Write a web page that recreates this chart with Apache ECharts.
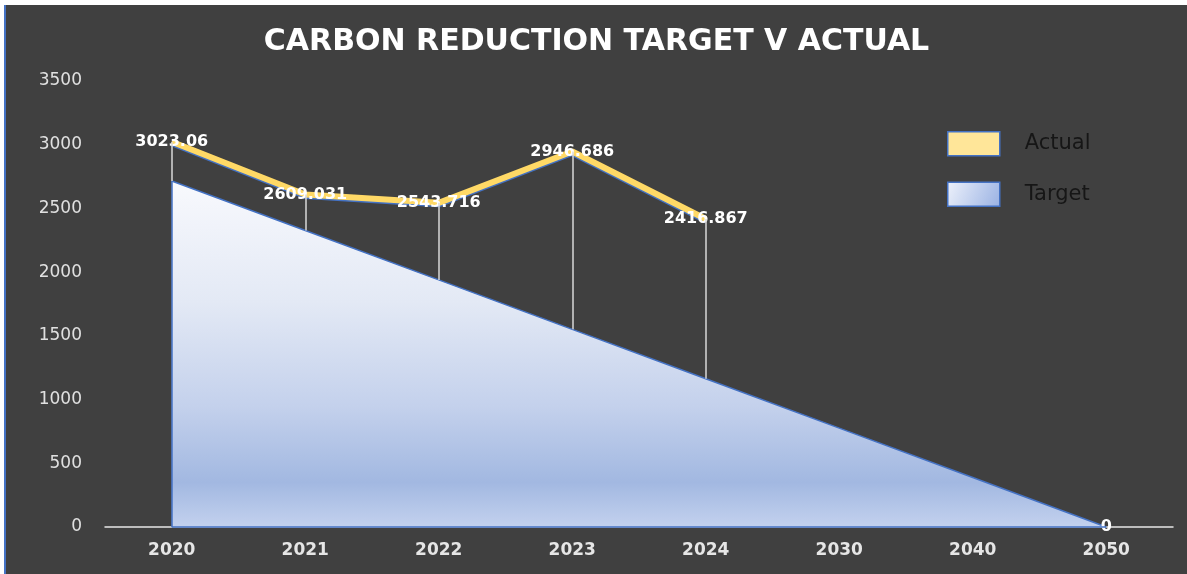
<!DOCTYPE html>
<html>
<head>
<meta charset="utf-8">
<script src="https://cdn.jsdelivr.net/npm/echarts@6/dist/echarts.min.js"></script>
<style>
  html, body { margin: 0; padding: 0; background: #ffffff; width: 1187px; height: 574px; overflow: hidden; }
  #frame { position: absolute; left: 4px; top: 5px; width: 1181px; height: 569px; border-left: 2px solid #4472c4; background: #404040; }
  #chart { width: 1181px; height: 569px; }
</style>
</head>
<body>
<div id="frame"><div id="chart"></div></div>
<script>
// categories + values
const years = ['2020', '2021', '2022', '2023', '2024', '2030', '2040', '2050']
const actual = [3023.06, 2609.031, 2543.716, 2946.686, 2416.867, null, null, null]
const target = [2715, 2327, 1939, 1551, 1164, 776, 388, 0]
const yTicks = { min: 0, max: 3500, interval: 500 }

const chart = echarts.init(document.getElementById('chart'), null, { renderer: 'canvas' })

const last = target.length - 1
// drop lines from each actual point down to where the target area hides them
const dropLines = actual
  .map((v, i) => v == null ? null : [{ coord: [years[i], v] }, { coord: [years[i], target[i]] }])
  .filter(Boolean)

const labelFont = { color: '#ffffff', fontSize: 16, fontWeight: 'bold', fontFamily: 'DejaVu Sans' }

chart.setOption({
  backgroundColor: '#404040',
  animation: false,
  title: {
    text: 'CARBON REDUCTION TARGET V ACTUAL',
    left: 'center', top: 17,
    textStyle: { color: '#ffffff', fontSize: 30, fontWeight: 'bold', fontFamily: 'DejaVu Sans' },
  },
  legend: {
    orient: 'vertical', left: 936, top: 121,
    itemWidth: 52, itemHeight: 24, itemGap: 25,
    textStyle: { color: '#161616', fontSize: 21, fontFamily: 'DejaVu Sans', padding: [0, 0, 0, 20] },
    data: [
      { name: 'Actual', icon: 'rect', itemStyle: { color: '#ffe699', borderColor: '#4472c4', borderWidth: 1.5 } },
      { name: 'Target', icon: 'rect', itemStyle: {
        color: new echarts.graphic.LinearGradient(0, 0, 1, 1, [
          { offset: 0, color: '#eef2fb' }, { offset: 1, color: '#99b1e3' }]),
        borderColor: '#4472c4', borderWidth: 1.5 } },
    ],
  },
  grid: { left: 99, right: 14, top: 76, bottom: 47 },
  xAxis: {
    type: 'category', data: years, boundaryGap: true,
    axisLine: { lineStyle: { color: '#e6e6e6', width: 1.5 } },
    axisTick: { show: false },
    axisLabel: { color: '#e6e6e6', fontSize: 17, fontWeight: 'bold', fontFamily: 'DejaVu Sans', margin: 15 },
  },
  yAxis: {
    type: 'value', ...yTicks,
    axisLine: { show: false }, axisTick: { show: false }, splitLine: { show: false },
    axisLabel: { color: '#e0e0e0', fontSize: 17, fontFamily: 'DejaVu Sans', margin: 23, formatter: v => String(v) },
  },
  series: [
    {
      name: 'Target', type: 'line', z: 3,
      data: target.map((v, i) => i === last
        ? { value: v, label: { show: true, position: 'inside', ...labelFont } }
        : v),
      symbol: 'circle', symbolSize: 0,
      lineStyle: { color: '#4472c4', width: 1.5 },
      itemStyle: { color: '#4472c4' },
      areaStyle: {
        opacity: 1,
        color: new echarts.graphic.LinearGradient(0, 0, 0, 1, [
          { offset: 0, color: '#f8f9fd' },
          { offset: 0.35, color: '#e3e9f5' },
          { offset: 0.65, color: '#c4d1ec' },
          { offset: 0.87, color: '#a2b8e1' },
          { offset: 1, color: '#c3d1ee' },
        ]),
      },
      markLine: {
        silent: true, symbol: 'none', label: { show: false },
        lineStyle: { color: '#4472c4', width: 1.5, type: 'solid' },
        data: [
          [{ coord: [years[0], 0] }, { coord: [years[0], target[0]] }],
          [{ coord: [years[0], 0] }, { coord: [years[last], 0] }],
        ],
      },
    },
    {
      name: 'Actual', type: 'line', z: 4,
      data: actual,
      symbol: 'circle', symbolSize: 0,
      lineStyle: { color: '#ffd966', width: 6, shadowColor: '#4472c4', shadowOffsetY: 1.5, shadowBlur: 0 },
      itemStyle: { color: '#ffd966' },
      label: { show: true, position: 'inside', ...labelFont },
      markLine: {
        silent: true, symbol: 'none', label: { show: false },
        lineStyle: { color: '#d9d9d9', width: 1.5, type: 'solid' },
        data: dropLines,
      },
    },
  ],
})
</script>
</body>
</html>
